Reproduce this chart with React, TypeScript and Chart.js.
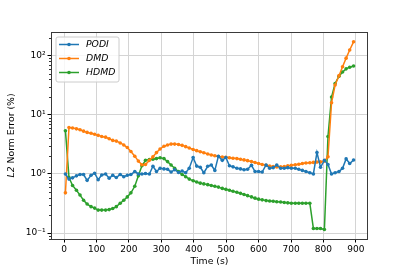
import { useEffect, useRef } from 'react';
import { Chart, registerables } from 'chart.js';

Chart.register(...registerables);

const times = [
  4, 15, 26, 38, 49, 60, 71, 83, 94, 105, 116, 128, 139, 150, 161, 173, 184, 195, 206, 218,
  229, 240, 251, 263, 274, 285, 296, 308, 319, 330, 341, 353, 364, 375, 386, 398, 409, 420, 431, 443,
  454, 465, 476, 488, 499, 510, 521, 533, 544, 555, 566, 578, 589, 600, 611, 623, 634, 645, 656, 668,
  679, 690, 701, 713, 724, 735, 746, 758, 769, 780, 791, 803, 814, 825, 836, 848, 859, 870, 881, 893,
];

const podi = [
  1.0, 0.82, 0.86, 0.93, 0.98, 0.98, 0.78, 0.95, 1.03, 0.8,
  0.96, 1.0, 0.85, 0.95, 0.87, 0.98, 0.9, 0.95, 0.98, 1.1,
  1.0, 1.0, 1.02, 1.0, 1.35, 1.1, 1.25, 1.22, 1.2, 1.08,
  1.18, 1.06, 1.12, 1.05, 1.25, 1.9, 1.36, 1.3, 1.05, 1.35,
  1.42, 1.15, 2.0, 1.7, 1.9, 1.38, 1.32, 1.25, 1.22, 1.18,
  1.2, 1.4, 1.1, 1.1, 1.08, 1.42, 1.25, 1.28, 1.42, 1.25,
  1.25, 1.28, 1.25, 1.25, 1.2, 1.15, 1.1, 1.05, 1.0, 2.3,
  1.3, 1.7, 1.45, 1.0, 1.05, 1.1, 1.25, 1.8, 1.5, 1.72,
];

const dmd = [
  0.48, 6.1, 6.0, 5.8, 5.6, 5.3, 5.05, 4.9, 4.7, 4.5,
  4.3, 4.2, 3.95, 3.7, 3.6, 3.35, 3.1, 2.8, 2.4, 2.0,
  1.65, 1.43, 1.45, 1.7, 1.95, 2.3, 2.65, 2.95, 3.1, 3.2,
  3.2, 3.15, 3.05, 2.9, 2.75, 2.6, 2.48, 2.38, 2.28, 2.18,
  2.1, 2.03, 1.98, 1.94, 1.91, 1.88, 1.85, 1.82, 1.78, 1.73,
  1.68, 1.62, 1.56, 1.5, 1.45, 1.4, 1.36, 1.33, 1.31, 1.32,
  1.34, 1.37, 1.4, 1.43, 1.46, 1.5, 1.53, 1.55, 1.57, 1.59,
  1.6, 1.65, 1.95, 16, 32, 46, 65, 91, 125, 172,
];

const hdmd = [
  5.4, 0.87, 0.64, 0.53, 0.44, 0.36, 0.31, 0.28, 0.265, 0.245,
  0.245, 0.245, 0.25, 0.26, 0.28, 0.32, 0.36, 0.41, 0.48, 0.62,
  0.93, 1.38, 1.7, 1.75, 1.78, 1.82, 1.88, 1.82, 1.62, 1.42,
  1.25, 1.1, 0.98, 0.9, 0.82, 0.77, 0.73, 0.7, 0.68, 0.66,
  0.64, 0.62, 0.6, 0.57, 0.55, 0.53, 0.51, 0.49, 0.47, 0.45,
  0.43, 0.41, 0.39, 0.375, 0.365, 0.355, 0.35, 0.345, 0.34, 0.335,
  0.33, 0.325, 0.32, 0.32, 0.32, 0.32, 0.32, 0.32, 0.12, 0.12,
  0.12, 0.115, 4.3, 20, 34, 45, 53, 60, 64, 67,
];

const seriesLabels = ['PODI', 'DMD', 'HDMD'];
const seriesColors = ['#1f77b4', '#ff7f0e', '#2ca02c'];

const xTicks = [0, 100, 200, 300, 400, 500, 600, 700, 800, 900];
const yMajorTicks = [0.1, 1, 10, 100];
const yMajorLabels = ['10⁻¹', '10⁰', '10¹', '10²'];

const xTitle = 'Time (s)';
const yTitleItalic = 'L2';
const yTitleRest = ' Norm Error (%)';

const X_MIN = -40.5;
const X_MAX = 937.5;
const Y_MIN = 0.0795;
const Y_MAX = 252;

const FONT = '"DejaVu Sans", sans-serif';
const GRID = '#d4d4d4';
const LINE_W = 1.5;
const POINT_R = 1.8;

function majorIndex(v: number): number {
  for (let i = 0; i < yMajorTicks.length; i++) {
    if (Math.abs(Math.log10(v) - Math.log10(yMajorTicks[i])) < 1e-6) return i;
  }
  return -1;
}

function buildYTicks(): number[] {
  const out: number[] = [];
  for (let e = -2; e <= 3; e++) {
    for (let m = 1; m <= 9; m++) {
      const v = m * Math.pow(10, e);
      if (v >= Y_MIN && v <= Y_MAX) out.push(v);
    }
  }
  return out;
}

export default function App() {
  const ref = useRef<HTMLCanvasElement>(null);

  useEffect(() => {
    document.body.style.margin = '0';
    const canvas = ref.current;
    if (!canvas) return;
    const yTickValues = buildYTicks();

    const decorations = {
      id: 'decorations',
      afterDraw(chart: any) {
        const ctx = chart.ctx as CanvasRenderingContext2D;
        const a = chart.chartArea;
        const yScale = chart.scales.y;
        ctx.save();
        // minor y ticks
        ctx.strokeStyle = '#000';
        ctx.lineWidth = 0.8;
        for (const v of yTickValues) {
          if (majorIndex(v) >= 0) continue;
          const py = Math.round(yScale.getPixelForValue(v)) + 0.5;
          ctx.beginPath();
          ctx.moveTo(a.left - 2, py);
          ctx.lineTo(a.left, py);
          ctx.stroke();
        }
        // frame
        ctx.strokeStyle = '#3a3a3a';
        ctx.lineWidth = 1;
        ctx.strokeRect(Math.round(a.left) + 0.5, Math.round(a.top) + 0.5,
          Math.round(a.right - a.left) - 1, Math.round(a.bottom - a.top));

        // legend
        const lx = a.left + 5;
        const ly = a.top + 5;
        const lw = 63;
        const lh = 45;
        const r = 2;
        ctx.beginPath();
        ctx.moveTo(lx + r, ly);
        ctx.lineTo(lx + lw - r, ly);
        ctx.quadraticCurveTo(lx + lw, ly, lx + lw, ly + r);
        ctx.lineTo(lx + lw, ly + lh - r);
        ctx.quadraticCurveTo(lx + lw, ly + lh, lx + lw - r, ly + lh);
        ctx.lineTo(lx + r, ly + lh);
        ctx.quadraticCurveTo(lx, ly + lh, lx, ly + lh - r);
        ctx.lineTo(lx, ly + r);
        ctx.quadraticCurveTo(lx, ly, lx + r, ly);
        ctx.closePath();
        ctx.fillStyle = 'rgba(255,255,255,0.8)';
        ctx.fill();
        ctx.strokeStyle = '#cccccc';
        ctx.lineWidth = 1;
        ctx.stroke();
        ctx.font = 'italic 9.3px ' + FONT;
        ctx.textBaseline = 'middle';
        ctx.textAlign = 'left';
        seriesLabels.forEach((lab, i) => {
          const cy = ly + 7.5 + i * 14;
          ctx.strokeStyle = seriesColors[i];
          ctx.lineWidth = LINE_W;
          ctx.beginPath();
          ctx.moveTo(lx + 3, cy);
          ctx.lineTo(lx + 23, cy);
          ctx.stroke();
          ctx.fillStyle = seriesColors[i];
          ctx.beginPath();
          ctx.arc(lx + 13, cy, POINT_R, 0, Math.PI * 2);
          ctx.fill();
          ctx.fillStyle = '#000';
          ctx.fillText(lab, lx + 30, cy + 0.5);
        });

        // axis titles
        ctx.fillStyle = '#000';
        ctx.font = '9.3px ' + FONT;
        ctx.textAlign = 'center';
        ctx.textBaseline = 'middle';
        ctx.fillText(xTitle, (a.left + a.right) / 2, a.bottom + 23);

        ctx.translate(a.left - 39, (a.top + a.bottom) / 2);
        ctx.rotate(-Math.PI / 2);
        ctx.font = 'italic 9.3px ' + FONT;
        const w1 = ctx.measureText(yTitleItalic).width;
        ctx.font = '9.3px ' + FONT;
        const w2 = ctx.measureText(yTitleRest).width;
        const start = -(w1 + w2) / 2;
        ctx.textAlign = 'left';
        ctx.font = 'italic 9.3px ' + FONT;
        ctx.fillText(yTitleItalic, start, 0);
        ctx.font = '9.3px ' + FONT;
        ctx.fillText(yTitleRest, start + w1, 0);
        ctx.restore();
      },
    };

    const seriesValues = [podi, dmd, hdmd];
    const chart = new Chart(canvas, {
      type: 'line',
      data: {
        datasets: seriesValues.map((vals, i) => ({
          label: seriesLabels[i],
          data: times.map((t, j) => ({ x: t, y: vals[j] })),
          borderColor: seriesColors[i],
          backgroundColor: seriesColors[i],
          borderWidth: LINE_W,
          pointRadius: POINT_R,
          pointBorderWidth: 0,
          pointHoverRadius: POINT_R,
          tension: 0,
          fill: false,
        })),
      },
      options: {
        animation: false,
        responsive: false,
        devicePixelRatio: 1,
        events: [],
        layout: { padding: { top: 32, right: 41, left: 0, bottom: 0 } },
        plugins: {
          legend: { display: false },
          tooltip: { enabled: false },
          title: { display: false },
        },
        scales: {
          x: {
            type: 'linear',
            min: X_MIN,
            max: X_MAX,
            afterBuildTicks: (s: any) => {
              s.ticks = xTicks.map((v) => ({ value: v }));
            },
            afterFit: (s: any) => {
              s.height = 34;
            },
            ticks: {
              autoSkip: false,
              maxRotation: 0,
              padding: 1.5,
              color: '#000',
              font: { family: FONT, size: 9 },
              callback: (v: any) => String(v),
            },
            grid: { color: GRID, tickColor: '#000', tickLength: 3.5, lineWidth: 1 },
            border: { display: false },
          },
          y: {
            type: 'logarithmic',
            min: Y_MIN,
            max: Y_MAX,
            afterBuildTicks: (s: any) => {
              s.ticks = yTickValues.map((v) => ({ value: v }));
            },
            afterFit: (s: any) => {
              s.width = 51;
            },
            ticks: {
              autoSkip: false,
              padding: 2,
              color: '#000',
              font: { family: FONT, size: 9 },
              callback: (v: any) => {
                const k = majorIndex(Number(v));
                return k >= 0 ? yMajorLabels[k] : '';
              },
            },
            grid: {
              color: (c: any) => (c.tick && majorIndex(c.tick.value) >= 0 ? GRID : 'rgba(0,0,0,0)'),
              tickColor: (c: any) => (c.tick && majorIndex(c.tick.value) >= 0 ? '#000' : 'rgba(0,0,0,0)'),
              tickLength: 3.5,
              lineWidth: 1,
            },
            border: { display: false },
          },
        },
      },
      plugins: [decorations],
    } as any);

    return () => {
      chart.destroy();
    };
  }, []);

  return (
    <div style={{ width: 409, height: 273 }}>
      <canvas ref={ref} width={409} height={273} style={{ display: 'block' }} />
    </div>
  );
}
